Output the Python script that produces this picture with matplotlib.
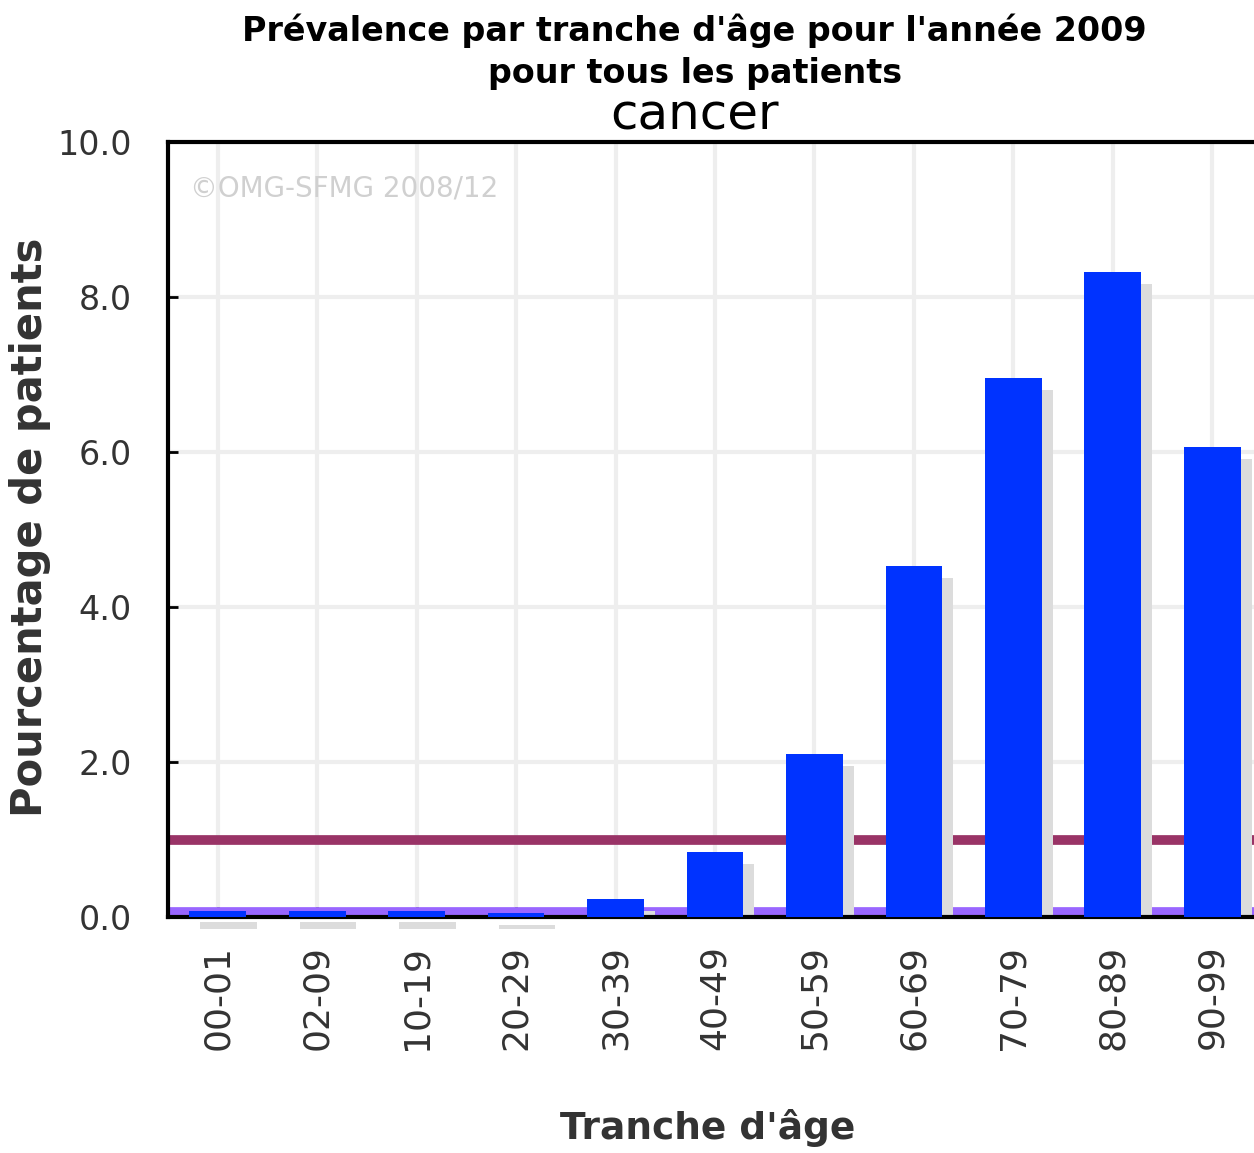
import matplotlib.pyplot as plt

ages = ['00-01', '02-09', '10-19', '20-29', '30-39', '40-49',
        '50-59', '60-69', '70-79', '80-89', '90-99']
prevalence = [0.08, 0.08, 0.08, 0.05, 0.23, 0.84, 2.10, 4.53, 6.95, 8.32, 6.06]
ref_line_high = 1.0
ref_line_low = 0.07
yticks = [0, 2, 4, 6, 8, 10]

fig = plt.figure(figsize=(12.54, 11.53), dpi=100)
ax = fig.add_axes([168 / 1254, 1 - 917 / 1153, 1094 / 1254, 775 / 1153])

x = list(range(len(ages)))
width = 0.57
dx = 0.11
dy = 0.15

# grey drop shadows behind each bar
for i, v in enumerate(prevalence):
    small = v < 0.1
    ax.bar(i + dx, v, width=width, bottom=-dy, color='#dcdcdc',
           zorder=2, clip_on=not small)

ax.axhline(ref_line_high, color='#993366', lw=7, zorder=1.5)
ax.axhline(ref_line_low, color='#9966ff', lw=7, zorder=1.5)

ax.bar(x, prevalence, width=width, color='#0033ff', zorder=3)

ax.set_xlim(-0.5, 10.5)
ax.set_ylim(0, 10)
ax.set_yticks(yticks)
ax.set_yticklabels(['%.1f' % t for t in yticks], fontsize=24, color='#333333')
ax.set_xticks(x)
ax.set_xticklabels(ages, rotation=90, fontsize=26, color='#333333')
ax.tick_params(direction='in', length=7, width=2)
ax.tick_params(axis='y', pad=26)
ax.tick_params(axis='x', pad=20)
ax.grid(True, color='#eeeeee', lw=3, zorder=0)
ax.set_axisbelow(True)
for s in ['left', 'bottom', 'top']:
    ax.spines[s].set_linewidth(3)
ax.spines['right'].set_visible(False)

fig.text(30 / 1254, 1 - 527 / 1153, 'Pourcentage de patients', rotation=90,
         ha='center', va='center', fontsize=30, fontweight='bold', color='#333333')
fig.text(708 / 1254, 1 - 1128 / 1153, "Tranche d'âge",
         ha='center', va='center', fontsize=27, fontweight='bold', color='#333333')

ax.text(0.02, 0.94, '©OMG-SFMG 2008/12', transform=ax.transAxes,
        fontsize=20, color='#d0d0d0', va='center')

fig.text(0.554, 1 - 31 / 1153, "Prévalence par tranche d'âge pour l'année 2009",
         ha='center', va='center', fontsize=24, fontweight='bold')
fig.text(0.554, 1 - 73 / 1153, 'pour tous les patients',
         ha='center', va='center', fontsize=24, fontweight='bold')
fig.text(0.554, 1 - 116 / 1153, 'cancer',
         ha='center', va='center', fontsize=36)

fig.savefig('out.png', dpi=100)
